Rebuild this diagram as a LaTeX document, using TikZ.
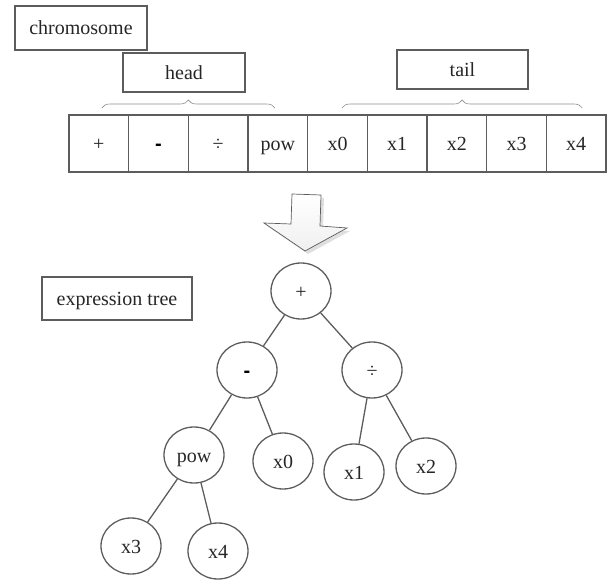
\documentclass[tikz,border=0pt]{standalone}
\usepackage{fontspec}
\setmainfont{Liberation Serif}
\newfontfamily\dashfont{Liberation Sans}
\usetikzlibrary{shapes.geometric, positioning, decorations.pathreplacing}
\definecolor{EdgeGray}{HTML}{5C5C5C}
\definecolor{TextGray}{HTML}{262626}

\begin{document}
\begin{tikzpicture}[x=1pt, y=-1pt,
  every node/.style={font=\fontsize{20}{24}\selectfont, text=TextGray, text height=15pt, text depth=1pt},
  labelbox/.style={draw=EdgeGray, line width=1.3pt, inner sep=0pt},
  gene/.style={draw=EdgeGray, line width=1.3pt, minimum width=59.7pt, minimum height=57pt, inner sep=0pt, outer sep=0pt},
  treenode/.style={ellipse, draw=EdgeGray, line width=1.3pt, minimum width=60pt, minimum height=56pt, inner sep=0pt},
  treeedge/.style={draw=EdgeGray, line width=1.3pt},
  genebrace/.style={decorate, decoration={brace, amplitude=8pt}, draw=EdgeGray!70, line width=0.6pt}]

\useasboundingbox (0,0) rectangle (607,580);

% --- LABELS ---
\node[labelbox, minimum width=132pt, minimum height=44pt] (chromo) at (81,28) {chromosome};
\node[labelbox, minimum width=122pt, minimum height=39pt] (head) at (184,72.5) {head};
\node[labelbox, minimum width=131pt, minimum height=39pt] (tail) at (462.5,69.5) {tail};
\node[labelbox, minimum width=150pt, minimum height=43pt] (exprtree) at (117,298.5) {expression tree};

% --- CHROMOSOME CELLS ---
\foreach \lab [count=\i] in {+, {\color{black}\dashfont\bfseries -}, ÷, pow, x0, x1, x2, x3, x4}
  \node[gene] (g\i) at ({69+59.67*(\i-0.5)}, 143.5) {\lab};

% braces over head and tail
\draw[genebrace] ([xshift=3pt, yshift=7pt]g1.north) -- ([xshift=-3pt, yshift=7pt]g4.north);
\draw[genebrace] ([xshift=4.5pt, yshift=7pt]g5.north) -- ([xshift=6pt, yshift=7pt]g9.north);

% --- BLOCK ARROW ---
\fill[gray!25] (295,197) -- (324,198) -- (323,229) -- (350,231) -- (308,254) -- (267,226) -- (294,227) -- cycle;
\shade[top color=white, bottom color=gray!12, draw=EdgeGray, line width=0.7pt]
  (292,194) -- (321,195) -- (320,226) -- (347,228) -- (305,251) -- (264,223) -- (291,224) -- cycle;

% --- EXPRESSION TREE ---
\node[treenode] (tplus) at (301,291) {+};
\node[treenode] (tminus) at (247,370) {\color{black}\dashfont\bfseries -};
\node[treenode] (tdiv) at (372,370) {÷};
\node[treenode] (tpow) at (194,455) {pow};
\node[treenode] (tx0) at (283,461) {x0};
\node[treenode] (tx1) at (354,472) {x1};
\node[treenode] (tx2) at (426,466) {x2};
\node[treenode] (tx3) at (131,546) {x3};
\node[treenode] (tx4) at (218,551) {x4};

\draw[treeedge] (tplus) -- (tminus);
\draw[treeedge] (tplus) -- (tdiv);
\draw[treeedge] (tminus) -- (tpow);
\draw[treeedge] (tminus) -- (tx0);
\draw[treeedge] (tdiv) -- (tx1);
\draw[treeedge] (tdiv) -- (tx2);
\draw[treeedge] (tpow) -- (tx3);
\draw[treeedge] (tpow) -- (tx4);

\end{tikzpicture}
\end{document}
